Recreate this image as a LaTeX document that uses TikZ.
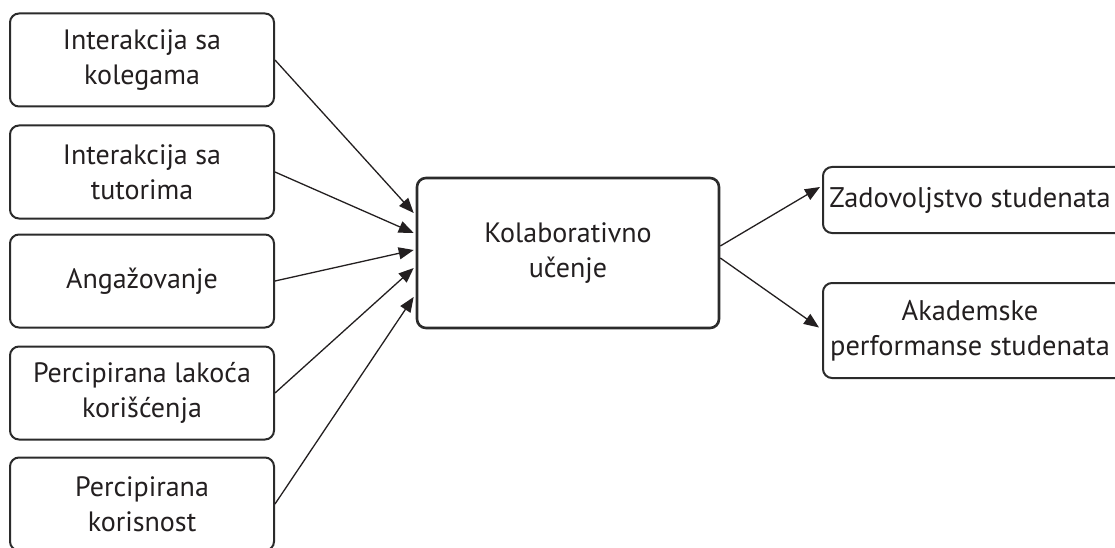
\documentclass[tikz,border=0pt]{standalone}
\usepackage{fontspec}
\setmainfont{PT Sans}
\usetikzlibrary{arrows.meta,calc}
\definecolor{ink}{HTML}{231F20}
\definecolor{edge}{HTML}{2B2B2B}
\tikzset{
  box/.style={draw=edge, line width=2pt, rounded corners=9pt, text=ink,
    align=center, inner sep=0pt, font=\fontsize{28}{35}\selectfont},
  srcbox/.style={box, minimum width=264pt, minimum height=93pt},
  outbox/.style={box, minimum width=312pt},
  outtext/.style={text=ink, align=center, inner sep=0pt, font=\fontsize{28.4}{35}\selectfont},
  link/.style={draw=ink, line width=1.3pt, -{Triangle[length=15pt,width=12pt]}},
}
\begin{document}
\begin{tikzpicture}[x=1pt,y=-1pt]
\useasboundingbox (0,0) rectangle (1115,548);
\clip (0,0) rectangle (1115,548);
\fill[white] (0,0) rectangle (1115,548);

% input factors
\node[srcbox] (s1) at (142,60)  {Interakcija sa\\kolegama};
\node[srcbox] (s2) at (142,172) {Interakcija sa\\tutorima};
\node[srcbox] (s3) at (142,281) {Angažovanje};
\node[srcbox] (s4) at (142,393) {Percipirana lakoća\\korišćenja};
\node[srcbox] (s5) at (142,504) {Percipirana\\korisnost};

% central construct
\node[box, line width=2.6pt, minimum width=302pt, minimum height=150pt] (c) at (568,253) {Kolaborativno\\učenje};

% outcomes: the frames run on past the right border
\node[outbox, minimum height=66pt] (o1) at (979,200) {};
\node[outbox, minimum height=95pt] (o2) at (979,330.5) {};
\node[outtext] (o1t) at ([xshift=-9pt]o1.center) {Zadovoljstvo studenata};
\node[outtext] (o2t) at ([xshift=-9pt]o2.center) {Akademske\\performanse studenata};

% arrows into the central box
\draw[link] (s1.east) -- ([shift={(-2pt,40pt)}]c.west);
\draw[link] (s2.east) -- ([shift={(-2pt,20pt)}]c.west);
\draw[link] (s3.east) -- ([shift={(-2pt,3pt)}]c.west);
\draw[link] (s4.east) -- ([shift={(-2pt,-15pt)}]c.west);
\draw[link] (s5.east) -- ([shift={(-2pt,-44pt)}]c.west);

% arrows to the outcomes
\draw[link] ([yshift=7pt]c.east) -- ([shift={(-2pt,13pt)}]o1.west);
\draw[link] ([yshift=-5pt]c.east) -- ([shift={(-3pt,3pt)}]o2.west);
\end{tikzpicture}
\end{document}
